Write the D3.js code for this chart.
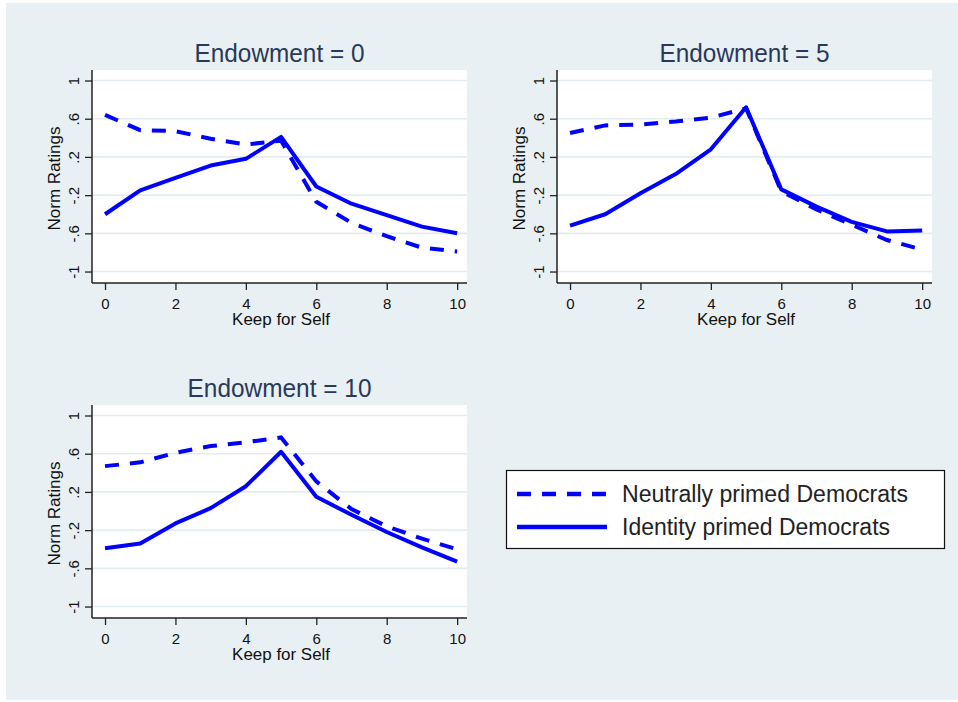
<!DOCTYPE html>
<html>
<head>
<meta charset="utf-8">
<script src="https://cdn.jsdelivr.net/npm/d3@7"></script>
<style>
  html, body { margin: 0; padding: 0; background: #ffffff; }
  svg { display: block; }
  text { font-family: "Liberation Sans", Arial, sans-serif; }
</style>
</head>
<body>
<svg id="chart" width="958" height="702"></svg>
<script>
// ---- data ----
const keepForSelf = [0, 1, 2, 3, 4, 5, 6, 7, 8, 9, 10];
const panelTitles = ["Endowment = 0", "Endowment = 5", "Endowment = 10"];
const seriesNames = ["Neutrally primed Democrats", "Identity primed Democrats"];

const neutralE0  = [0.64, 0.48, 0.47, 0.39, 0.33, 0.37, -0.27, -0.49, -0.63, -0.75, -0.79];
const identityE0 = [-0.40, -0.15, -0.02, 0.11, 0.18, 0.41, -0.11, -0.29, -0.41, -0.53, -0.60];

const neutralE5  = [0.45, 0.53, 0.54, 0.57, 0.61, 0.71, -0.16, -0.35, -0.51, -0.67, -0.77];
const identityE5 = [-0.52, -0.40, -0.18, 0.02, 0.28, 0.72, -0.14, -0.32, -0.48, -0.58, -0.57];

const neutralE10  = [0.47, 0.51, 0.61, 0.68, 0.72, 0.77, 0.31, 0.02, -0.16, -0.29, -0.40];
const identityE10 = [-0.39, -0.34, -0.13, 0.03, 0.26, 0.62, 0.15, -0.04, -0.22, -0.38, -0.53];

const yTickValues = [-1, -0.6, -0.2, 0.2, 0.6, 1];
const yTickLabels = ["-1", "-.6", "-.2", ".2", ".6", "1"];
const xTickValues = [0, 2, 4, 6, 8, 10];
const xTickLabels = ["0", "2", "4", "6", "8", "10"];

const panelsData = [
  { title: panelTitles[0], neutral: neutralE0,  identity: identityE0 },
  { title: panelTitles[1], neutral: neutralE5,  identity: identityE5 },
  { title: panelTitles[2], neutral: neutralE10, identity: identityE10 }
];

// ---- layout ----
const svg = d3.select("#chart");
const BG = "#e8f0f3";
const BLUE = "#0000ff";
const DASH = "14,11";

svg.append("rect").attr("x", 6).attr("y", 3).attr("width", 952).attr("height", 697).attr("fill", BG);

const panelBoxes = [
  { left: 92,  top: 70,  width: 375, height: 213 },
  { left: 557, top: 70,  width: 375, height: 213 },
  { left: 92,  top: 405, width: 375, height: 213 }
];

panelsData.forEach((p, i) => {
  const b = panelBoxes[i];
  const x = d3.scaleLinear().domain([-0.37, 10.28]).range([b.left, b.left + b.width]);
  const y = d3.scaleLinear().domain([-1.12, 1.11]).range([b.top + b.height, b.top]);
  const g = svg.append("g");

  g.append("rect").attr("x", b.left).attr("y", b.top)
    .attr("width", b.width).attr("height", b.height).attr("fill", "#ffffff");

  g.selectAll(".grid").data(yTickValues).enter().append("line")
    .attr("x1", b.left).attr("x2", b.left + b.width)
    .attr("y1", d => y(d)).attr("y2", d => y(d))
    .attr("stroke", "#e3ecf0").attr("stroke-width", 1.6);

  const yAxis = d3.axisLeft(y).tickValues(yTickValues)
    .tickFormat((d, k) => yTickLabels[k]).tickSize(7).tickPadding(5);
  const ya = g.append("g").attr("transform", `translate(${b.left},0)`).call(yAxis);
  ya.select(".domain").attr("d", `M0,${b.top}V${b.top + b.height}`).attr("stroke", "#222").attr("stroke-width", 1.5);
  ya.selectAll(".tick line").attr("stroke", "#222").attr("stroke-width", 1.3);
  ya.selectAll(".tick text")
    .attr("font-size", 15).attr("fill", "#111")
    .attr("text-anchor", "middle")
    .attr("x", null).attr("dy", null)
    .attr("transform", "translate(-19,0) rotate(-90)")
    .attr("dominant-baseline", "central");

  const xAxis = d3.axisBottom(x).tickValues(xTickValues)
    .tickFormat((d, k) => xTickLabels[k]).tickSize(7).tickPadding(8);
  const xa = g.append("g").attr("transform", `translate(0,${b.top + b.height})`).call(xAxis);
  xa.select(".domain").attr("d", `M${b.left},0H${b.left + b.width}`).attr("stroke", "#222").attr("stroke-width", 1.5);
  xa.selectAll(".tick line").attr("stroke", "#222").attr("stroke-width", 1.3);
  xa.selectAll(".tick text").attr("font-size", 15).attr("fill", "#111");

  g.append("text").attr("x", x(5)).attr("y", b.top + b.height + 42)
    .attr("text-anchor", "middle").attr("font-size", 16).attr("fill", "#111")
    .attr("textLength", 98).attr("lengthAdjust", "spacingAndGlyphs")
    .text("Keep for Self");
  g.append("text")
    .attr("transform", `translate(${b.left - 38},${b.top + b.height / 2 + 2}) rotate(-90)`)
    .attr("text-anchor", "middle").attr("dominant-baseline", "central")
    .attr("font-size", 16).attr("fill", "#111")
    .attr("textLength", 104).attr("lengthAdjust", "spacingAndGlyphs")
    .text("Norm Ratings");

  g.append("text").attr("x", b.left + b.width / 2).attr("y", b.top - 8)
    .attr("text-anchor", "middle").attr("font-size", 25).attr("fill", "#2a3859")
    .attr("textLength", i === 2 ? 184 : 170).attr("lengthAdjust", "spacingAndGlyphs")
    .text(p.title);

  const line = d3.line().x((d, k) => x(keepForSelf[k])).y(d => y(d));
  g.append("path").datum(p.neutral).attr("d", line)
    .attr("fill", "none").attr("stroke", BLUE).attr("stroke-width", 4)
    .attr("stroke-dasharray", DASH);
  g.append("path").datum(p.identity).attr("d", line)
    .attr("fill", "none").attr("stroke", BLUE).attr("stroke-width", 4)
    .attr("stroke-linejoin", "round");
});

// legend
const lg = svg.append("g");
lg.append("rect").attr("x", 506.5).attr("y", 470.5).attr("width", 438).attr("height", 78)
  .attr("fill", "#ffffff").attr("stroke", "#111").attr("stroke-width", 1.2);
const legendDash = [DASH, null];
const legendTextLen = [286, 268];
seriesNames.forEach((name, k) => {
  const cy = 494 + k * 33;
  lg.append("line").attr("x1", 517).attr("x2", 607).attr("y1", cy).attr("y2", cy)
    .attr("stroke", BLUE).attr("stroke-width", 4.5)
    .attr("stroke-dasharray", legendDash[k]);
  lg.append("text").attr("x", 622).attr("y", cy + 8)
    .attr("font-size", 23).attr("fill", "#222")
    .attr("textLength", legendTextLen[k]).attr("lengthAdjust", "spacingAndGlyphs")
    .text(name);
});
</script>
</body>
</html>
